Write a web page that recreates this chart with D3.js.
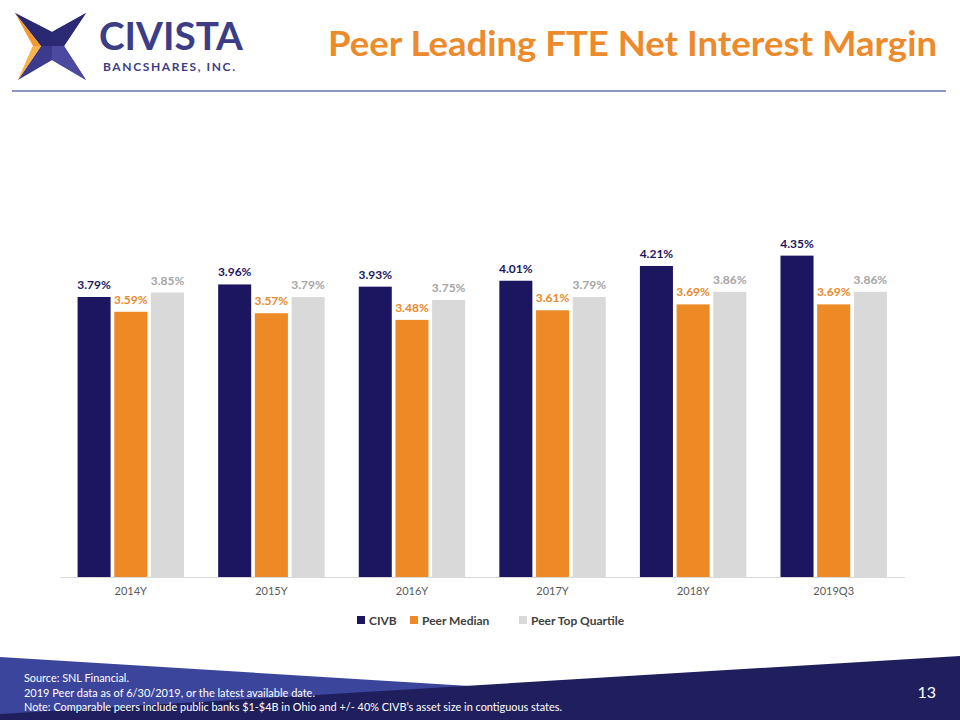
<!DOCTYPE html>
<html><head><meta charset="utf-8">
<script src="https://cdn.jsdelivr.net/npm/d3@7"></script>
<style>body{margin:0;background:#fff}svg{display:block}</style>
</head><body>
<script>
const categories = ["2014Y","2015Y","2016Y","2017Y","2018Y","2019Q3"];
const seriesNames = ["CIVB","Peer Median","Peer Top Quartile"];
const civb = [3.79,3.96,3.93,4.01,4.21,4.35];
const peerMedian = [3.59,3.57,3.48,3.61,3.69,3.69];
const peerTopQuartile = [3.85,3.79,3.75,3.79,3.86,3.86];
const seriesValues = [civb, peerMedian, peerTopQuartile];
const barColors = ["#1c1660","#ee8a25","#d9d9d9"];
const labelColors = ["#1c1660","#e8892a","#a5a5a5"];

const W=960,H=720;
const svg=d3.select("body").append("svg").attr("width",W).attr("height",H);
const F="Lato, 'Open Sans', sans-serif";

// Header
const logo=svg.append("g");
logo.append("polygon").attr("points","15,13 52,32 86,13 64,46 86,80 52,60 18,80 41,46").attr("fill","#3b3a8c");
logo.append("polygon").attr("points","52,32 86,13 64,46 52,46").attr("fill","#2c2a75");
logo.append("polygon").attr("points","52,46 64,46 86,80 52,60").attr("fill","#4b4aa0");
logo.append("polygon").attr("points","15,13 52,32 52,46 41,46").attr("fill","#2a2870");
logo.append("polygon").attr("points","15,13 41,46 18,80 33,46").attr("fill","#f39a2e");
logo.append("polygon").attr("points","18,80 41,46 33,46").attr("fill","#f7b44a");
logo.append("text").attr("x",99).attr("y",50).attr("font-family",F).attr("font-size",38).attr("font-weight",700)
  .attr("fill","#3d3c86").attr("textLength",144).attr("lengthAdjust","spacingAndGlyphs").text("CIVISTA");
logo.append("text").attr("x",103).attr("y",71).attr("font-family",F).attr("font-size",12).attr("font-weight",700)
  .attr("fill","#3d3c86").attr("textLength",132).text("BANCSHARES, INC.");

svg.append("text").attr("x",937).attr("y",56).attr("text-anchor","end").attr("font-family",F)
  .attr("font-size",34).attr("font-weight",700).attr("fill","#ec8a2c")
  .attr("textLength",609).attr("lengthAdjust","spacingAndGlyphs").text("Peer Leading FTE Net Interest Margin");
svg.append("line").attr("x1",12).attr("x2",946).attr("y1",91).attr("y2",91).attr("stroke","#8f94c0").attr("stroke-width",2);

// Chart
const x0=d3.scaleBand().domain(categories).range([60.5,904]).paddingInner(0.243).paddingOuter(0.1215);
const x1=d3.scaleBand().domain(seriesNames).range([0,x0.bandwidth()]).paddingInner(0.1);
const y=d3.scaleLinear().domain([0,3.79]).range([577,297]);

const g=svg.append("g");
categories.forEach((c,i)=>{
  seriesNames.forEach((s,j)=>{
    const v=seriesValues[j][i];
    g.append("rect").attr("x",x0(c)+x1(s)).attr("y",y(v)).attr("width",x1.bandwidth()).attr("height",y(0)-y(v))
      .attr("fill",barColors[j]);
    g.append("text").attr("x",x0(c)+x1(s)+x1.bandwidth()/2).attr("y",y(v)-8).attr("text-anchor","middle")
      .attr("font-family",F).attr("font-size",12).attr("font-weight",700).attr("fill",labelColors[j])
      .text(v.toFixed(2)+"%");
  });
});

const xAxis=svg.append("g").attr("transform","translate(0,577)").call(d3.axisBottom(x0).tickSize(0).tickPadding(10));
xAxis.select(".domain").attr("stroke","#d9d9d9").attr("d","M60,0.5H905");
xAxis.selectAll("text").attr("font-family",F).attr("font-size",11).attr("fill","#595959");

// Legend
const legendX=[357,410,519];
const leg=svg.append("g");
seriesNames.forEach((s,j)=>{
  leg.append("rect").attr("x",legendX[j]).attr("y",616).attr("width",8).attr("height",8).attr("fill",barColors[j]);
  leg.append("text").attr("x",legendX[j]+12).attr("y",625).attr("font-family",F).attr("font-size",12).attr("font-weight",700)
    .attr("fill","#404040").text(s);
});

// Footer
svg.append("polygon").attr("points","0,657 520,689 0,720").attr("fill","#3b459b");
svg.append("polygon").attr("points","0,714 960,656 960,720 0,720").attr("fill","#1f1f5e");
const foot=["Source: SNL Financial.","2019 Peer data as of 6/30/2019, or the latest available date.","Note: Comparable peers include public banks $1-$4B in Ohio and +/- 40% CIVB\u2019s asset size in contiguous states."];
const footLen=[105,291,538];
foot.forEach((t,i)=>svg.append("text").attr("x",24).attr("y",682+i*14.5).attr("font-family",F).attr("font-size",12)
  .attr("fill","#ffffff").attr("textLength",footLen[i]).attr("lengthAdjust","spacingAndGlyphs").text(t));
svg.append("text").attr("x",936).attr("y",698).attr("text-anchor","end").attr("font-family",F).attr("font-size",16)
  .attr("fill","#ffffff").text("13");
</script>
</body></html>
